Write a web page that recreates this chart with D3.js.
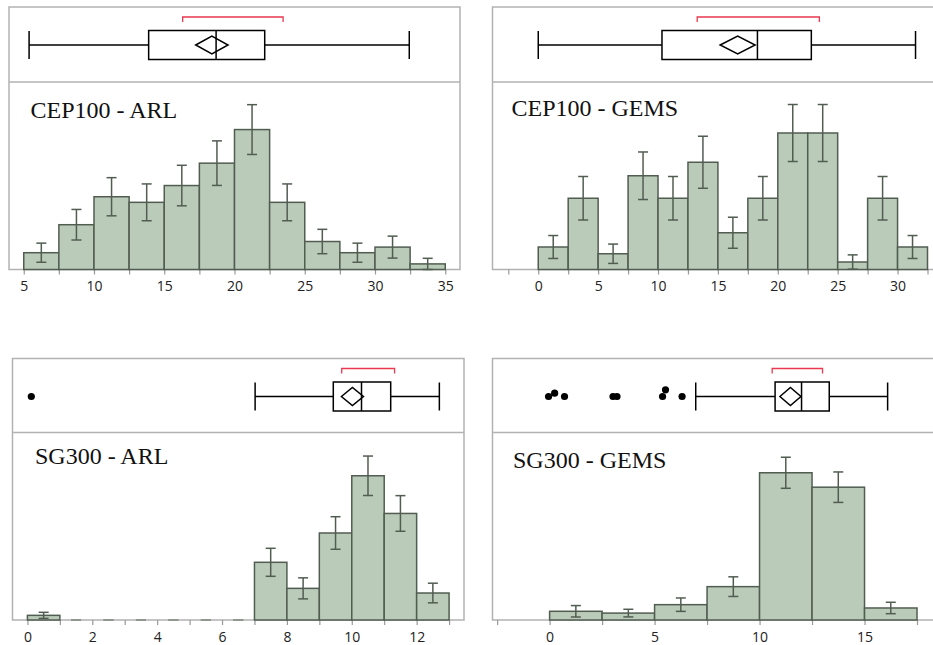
<!DOCTYPE html>
<html>
<head>
<meta charset="utf-8">
<script src="https://cdn.jsdelivr.net/npm/d3@7"></script>
<style>
  body { margin: 0; background: #fff; }
  svg { display: block; }
</style>
</head>
<body>
<svg id="chart" width="933" height="645"></svg>
<script>
// panel titles
const titles = ["CEP100 - ARL", "CEP100 - GEMS", "SG300 - ARL", "SG300 - GEMS"];

// histogram bins (start, width) and bar heights / error half widths
const binStart = [5, 0, 0, 0];
const binWidth = [2.5, 2.5, 1, 2.5];
const counts = [
    [3, 8, 13, 12, 15, 19, 25, 12, 5, 3, 4, 1],
    [3.0, 9.5, 2.1, 12.5, 9.5, 14.3, 4.9, 9.5, 18.2, 18.2, 1.0, 9.5, 3.0],
    [1.0, 0, 0, 0, 0, 0, 0, 12.4, 6.8, 18.7, 31.0, 22.9, 5.8],
    [2.9, 2.3, 5.1, 11.1, 49.0, 44.2, 4.0]
];
const errors = [
    [1.71, 2.73, 3.41, 3.29, 3.62, 3.98, 4.45, 3.29, 2.18, 1.71, 1.96, 1.0],
    [1.53, 2.9, 1.29, 3.17, 2.9, 3.47, 2.07, 2.9, 3.8, 3.8, 0.95, 2.9, 1.53],
    [0.65, 0, 0, 0, 0, 0, 0, 3.01, 2.26, 3.5, 4.24, 3.83, 2.11],
    [1.9, 1.27, 2.23, 3.27, 5.17, 5.07, 1.9]
];

// box plot summaries: [whisker low, q1, median, q3, whisker high]
const boxStats = [
    [5.38, 13.89, 18.69, 22.15, 32.44],
    [0, 10.33, 18.3, 22.8, 31.5],
    [7.02, 9.43, 10.3, 11.2, 12.7],
    [6.96, 10.74, 12.0, 13.32, 16.1]
];
const means = [18.39, 16.65, 10.02, 11.47];
const meanCI = [1.15, 1.46, 0.34, 0.5];
const shortestHalf = [[16.31, 23.46], [13.27, 23.47], [9.69, 11.32], [10.6, 13.0]];
const outliers = [[], [], [0.12], [-0.05, 0.24, 0.71, 3.02, 3.21, 5.38, 5.52, 6.31]];

// axis ticks
const majorTicks = [
    [5, 10, 15, 20, 25, 30, 35],
    [0, 5, 10, 15, 20, 25, 30],
    [0, 2, 4, 6, 8, 10, 12],
    [0, 5, 10, 15]
];
const minorTicks = [
    [7.5, 12.5, 17.5, 22.5, 27.5, 32.5],
    [-2.5, 2.5, 7.5, 12.5, 17.5, 22.5, 27.5, 32.5],
    [1, 3, 5, 7, 9, 11, 13],
    [-2.5, 2.5, 7.5, 12.5, 17.5]
];

// layout of the four panels
const layout = [
    { left: 9, right: 460, top: 7, mid: 82, bottom: 269.5, xDomain: [3.95, 36.05], yMax: 33.5, tx: 30.5, ty: 118 },
    { left: 492.5, right: 942, top: 7, mid: 82, bottom: 269.5, xDomain: [-3.82, 33.71], yMax: 25, tx: 511.5, ty: 116 },
    { left: 12.5, right: 464, top: 358.5, mid: 432.5, bottom: 620, xDomain: [-0.46, 13.46], yMax: 40.3, tx: 35, ty: 464 },
    { left: 492.5, right: 942, top: 358.5, mid: 432.5, bottom: 620, xDomain: [-2.72, 18.69], yMax: 62.4, tx: 513, ty: 468 }
];
const outlierJitter = [[], [], [0], [0, -3.3, 0, 0, 0, 0, -6.7, 0]];

const frameColor = "#b2b2b2";
const barFill = "#bacbba";
const barStroke = "#525d52";

const svg = d3.select("#chart");

layout.forEach((L, p) => drawPanel(L, p));

function drawPanel(L, p) {
    const g = svg.append("g");

    const x = d3.scaleLinear().domain(L.xDomain).range([L.left, L.right]);
    const y = d3.scaleLinear().domain([0, L.yMax]).range([L.bottom, L.mid]);

    // frame
    g.append("rect")
        .attr("x", L.left).attr("y", L.top)
        .attr("width", L.right - L.left).attr("height", L.bottom - L.top)
        .attr("fill", "none").attr("stroke", frameColor).attr("stroke-width", 1.5);
    g.append("line")
        .attr("x1", L.left).attr("x2", L.right)
        .attr("y1", L.mid).attr("y2", L.mid)
        .attr("stroke", frameColor).attr("stroke-width", 1.5);

    // x axis
    const axis = g.append("g")
        .attr("transform", `translate(0,${L.bottom})`)
        .call(d3.axisBottom(x).tickValues(majorTicks[p]).tickSize(5).tickSizeOuter(0).tickFormat(d3.format("d")));
    axis.select(".domain").remove();
    axis.selectAll(".tick line").attr("stroke", "#999").attr("stroke-width", 1.2);
    axis.selectAll(".tick text")
        .attr("y", 12)
        .attr("fill", "#222")
        .style("font-family", "'Open Sans', 'Noto Sans', sans-serif")
        .style("font-size", "14px");
    const minor = g.append("g")
        .attr("transform", `translate(0,${L.bottom})`)
        .call(d3.axisBottom(x).tickValues(minorTicks[p]).tickSize(5).tickSizeOuter(0).tickFormat(""));
    minor.select(".domain").remove();
    minor.selectAll(".tick line").attr("stroke", "#999").attr("stroke-width", 1.2);

    // histogram bars
    const bins = counts[p].map((c, i) => ({
        x0: binStart[p] + i * binWidth[p],
        x1: binStart[p] + (i + 1) * binWidth[p],
        c: c,
        e: errors[p][i]
    }));

    g.append("g").selectAll("rect")
        .data(bins.filter(d => d.c > 0))
        .enter().append("rect")
        .attr("x", d => x(d.x0))
        .attr("y", d => y(d.c))
        .attr("width", d => x(d.x1) - x(d.x0))
        .attr("height", d => y(0) - y(d.c))
        .attr("fill", barFill)
        .attr("stroke", barStroke)
        .attr("stroke-width", 1.5);

    // error bars
    const eb = g.append("g").selectAll("g")
        .data(bins)
        .enter().append("g")
        .attr("stroke", d => d.c > 0 ? barStroke : "#8f978f")
        .attr("stroke-width", d => d.c > 0 ? 1.5 : 2);
    const mid = d => x((d.x0 + d.x1) / 2);
    eb.append("line")
        .attr("x1", mid).attr("x2", mid)
        .attr("y1", d => y(Math.max(0, d.c - d.e)))
        .attr("y2", d => y(d.c + d.e));
    eb.append("line")
        .attr("x1", d => mid(d) - 5).attr("x2", d => mid(d) + 5)
        .attr("y1", d => y(d.c + d.e)).attr("y2", d => y(d.c + d.e));
    eb.append("line")
        .attr("x1", d => mid(d) - 5).attr("x2", d => mid(d) + 5)
        .attr("y1", d => y(Math.max(0, d.c - d.e))).attr("y2", d => y(Math.max(0, d.c - d.e)));

    // box plot
    const [lo, q1, med, q3, hi] = boxStats[p];
    const by = L.top + 38;
    const box = g.append("g").attr("stroke", "#000").attr("stroke-width", 1.5).attr("fill", "none");
    box.append("line").attr("x1", x(lo)).attr("x2", x(q1)).attr("y1", by).attr("y2", by);
    box.append("line").attr("x1", x(q3)).attr("x2", x(hi)).attr("y1", by).attr("y2", by);
    box.append("line").attr("x1", x(lo)).attr("x2", x(lo)).attr("y1", by - 14).attr("y2", by + 14);
    box.append("line").attr("x1", x(hi)).attr("x2", x(hi)).attr("y1", by - 14).attr("y2", by + 14);
    box.append("rect")
        .attr("x", x(q1)).attr("y", by - 14.5)
        .attr("width", x(q3) - x(q1)).attr("height", 29);
    box.append("line").attr("x1", x(med)).attr("x2", x(med)).attr("y1", by - 14.5).attr("y2", by + 14.5);

    // mean diamond
    const m = means[p], ci = meanCI[p];
    box.append("polygon")
        .attr("points", [[x(m - ci), by], [x(m), by - 9], [x(m + ci), by], [x(m), by + 9]].join(" "));

    // shortest half bracket
    const [s0, s1] = shortestHalf[p];
    const byTop = L.top + 10;
    g.append("path")
        .attr("d", `M${x(s0)},${byTop + 5}V${byTop}H${x(s1)}V${byTop + 5}`)
        .attr("fill", "none")
        .attr("stroke", "#e8394e")
        .attr("stroke-width", 1.3);

    // outliers
    g.append("g").selectAll("circle")
        .data(outliers[p])
        .enter().append("circle")
        .attr("cx", d => x(d))
        .attr("cy", (d, i) => by + outlierJitter[p][i])
        .attr("r", 3.6)
        .attr("fill", "#000");

    // title
    g.append("text")
        .attr("x", L.tx).attr("y", L.ty)
        .style("font-family", "'Liberation Serif', 'Times New Roman', serif")
        .style("font-size", "24px")
        .attr("fill", "#111")
        .text(titles[p]);
}
</script>
</body>
</html>
